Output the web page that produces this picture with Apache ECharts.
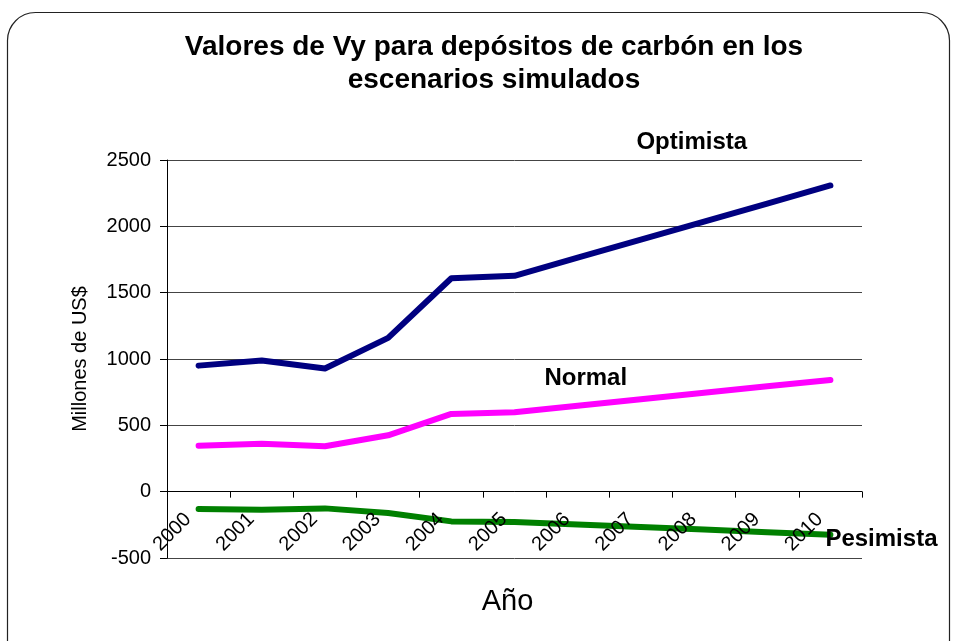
<!DOCTYPE html>
<html>
<head>
<meta charset="utf-8">
<script src="https://cdn.jsdelivr.net/npm/echarts@6/dist/echarts.min.js"></script>
<style>html,body{margin:0;padding:0;background:#fff}#c{width:956px;height:641px}</style>
</head>
<body>
<div id="c"></div>
<script>
const years = ['2000','2001','2002','2003','2004','2005','2006','2007','2008','2009','2010'];
const optimista = [950, 988, 928, 1159, 1609, 1627, 1764, 1900, 2036, 2172, 2308];
const normal = [347, 362, 342, 425, 586, 598, 647, 696, 745, 794, 842];
const pesimista = [-131, -136, -126, -161, -224, -229, -248, -267, -286, -305, -324];
const seriesNames = ['Optimista', 'Normal', 'Pesimista'];
const yTicks = { min: -500, max: 2500, interval: 500 };

const FONT = '"Liberation Sans", Arial, sans-serif';
const GRID = { left: 167, right: 94, top: 160, bottom: 83 };
const plotH = 641 - GRID.top - GRID.bottom;
// distance from the bottom of the plot to the zero line, via the y scale
const zeroOffset = plotH * (0 - yTicks.min) / (yTicks.max - yTicks.min);

const chart = echarts.init(document.getElementById('c'), null, { renderer: 'canvas' });

function endLabel(offset) {
  return { show: true, formatter: '{a}', distance: 5, offset: offset,
    fontFamily: FONT, fontWeight: 'bold', fontSize: 24, color: '#000' };
}

const option = {
  animation: false,
  backgroundColor: '#fff',
  graphic: [{
    type: 'rect',
    shape: { x: 7.5, y: 12.5, width: 942, height: 660, r: 28 },
    style: { fill: 'none', stroke: '#222', lineWidth: 1.2 },
    silent: true, z: -1
  }],
  title: {
    text: 'Valores de Vy para depósitos de carbón en los\nescenarios simulados',
    left: 489, top: 26, textAlign: 'center',
    textStyle: { fontFamily: FONT, fontWeight: 'bold', fontSize: 28, lineHeight: 33, color: '#000' }
  },
  grid: { left: GRID.left, right: GRID.right, top: GRID.top, bottom: GRID.bottom, containLabel: false, outerBoundsMode: 'none' },
  xAxis: {
    type: 'category',
    data: years,
    boundaryGap: true,
    position: 'bottom',
    offset: -zeroOffset,
    z: 10,
    name: 'Año',
    nameLocation: 'middle',
    nameGap: 96,
    nameTextStyle: { fontFamily: FONT, fontSize: 29, color: '#000', padding: [0, 0, 0, -14] },
    axisLine: { onZero: false, lineStyle: { color: '#000', width: 1 } },
    axisTick: { show: true, alignWithLabel: false, inside: false, length: 6, lineStyle: { color: '#000' } },
    axisLabel: { rotate: 45, margin: 14, padding: [0, 15, 13, 0], fontFamily: FONT, fontSize: 20, color: '#000', interval: 0, hideOverlap: false },
    splitLine: { show: false }
  },
  yAxis: {
    type: 'value',
    min: yTicks.min, max: yTicks.max, interval: yTicks.interval,
    name: 'Millones de US$',
    nameLocation: 'middle',
    nameGap: 77,
    nameRotate: 90,
    nameTextStyle: { fontFamily: FONT, fontSize: 20, color: '#000' },
    axisLine: { show: true, onZero: false, lineStyle: { color: '#000', width: 1 } },
    axisTick: { show: true, length: 7, lineStyle: { color: '#000' } },
    axisLabel: { margin: 16, fontFamily: FONT, fontSize: 20, color: '#000', formatter: v => String(v) },
    splitLine: { show: true, lineStyle: { color: '#444', width: 1 } }
  },
  series: [
    { name: seriesNames[0], type: 'line', data: optimista,
      showSymbol: false, symbol: 'none', lineStyle: { color: '#000080', width: 6, cap: 'round', join: 'round' },
      itemStyle: { color: '#000080' }, endLabel: endLabel([-199, -43]), z: 3 },
    { name: seriesNames[1], type: 'line', data: normal,
      showSymbol: false, symbol: 'none', lineStyle: { color: '#FF00FF', width: 6, cap: 'round', join: 'round' },
      itemStyle: { color: '#FF00FF' }, endLabel: endLabel([-291, -2]), z: 3 },
    { name: seriesNames[2], type: 'line', data: pesimista,
      showSymbol: false, symbol: 'none', lineStyle: { color: '#008000', width: 6, cap: 'round', join: 'round' },
      itemStyle: { color: '#008000' }, endLabel: endLabel([-10, 5]), z: 3 }
  ]
};
chart.setOption(option);
</script>
</body>
</html>
